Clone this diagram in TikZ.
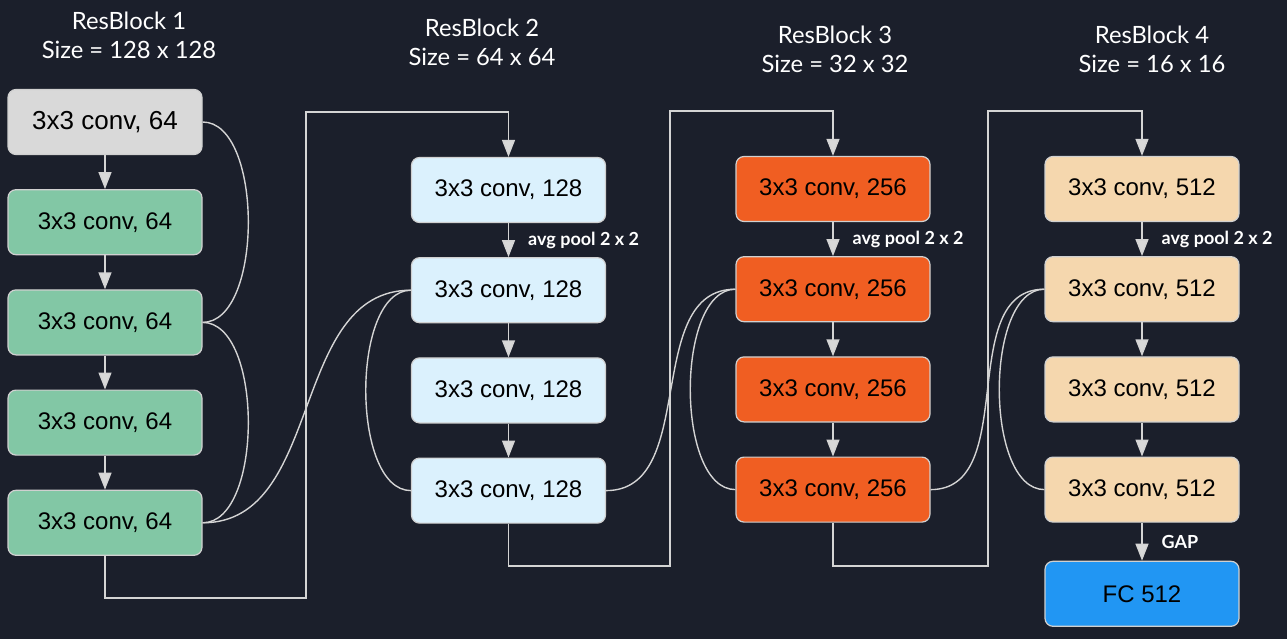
\documentclass[tikz,border=0pt]{standalone}
\usepackage{fontspec}
\setmainfont{Liberation Sans}
\newfontfamily\latofont{Lato}
\usetikzlibrary{positioning,arrows.meta}

\definecolor{bgnavy}{HTML}{1B1F2B}
\definecolor{linkgrey}{HTML}{D4D4D4}
\definecolor{boxedge}{HTML}{D0D0D0}
\definecolor{stemgrey}{HTML}{D9D9D9}
\definecolor{greenconv}{HTML}{82C7A5}
\definecolor{blueconv}{HTML}{DBF1FD}
\definecolor{orangeconv}{HTML}{F05E22}
\definecolor{peachconv}{HTML}{F5D7AE}
\definecolor{fcblue}{HTML}{2196F3}

\tikzset{
  convbox/.style={draw=boxedge, line width=1.2pt, rounded corners=8pt,
    minimum width=194pt, minimum height=65pt, inner sep=0pt,
    font=\fontsize{24}{28}\selectfont, text=black},
  blocktitle/.style={align=center, text=white, inner sep=0pt,
    font=\latofont\fontsize{23.8}{29}\selectfont},
  opnote/.style={midway, anchor=west, xshift=19pt, inner sep=0pt, text=white,
    font=\latofont\bfseries\fontsize{18}{20}\selectfont},
  link/.style={draw=linkgrey, line width=1.4pt},
  flow/.style={link, -{Triangle[length=17pt,width=13pt,fill=stemgrey]}},
}

\begin{document}
\begin{tikzpicture}[x=1pt,y=-1pt,node distance=34pt]
    \fill[bgnavy] (0,0) rectangle (1287,639);
    \useasboundingbox (0,0) rectangle (1287,639);

    % Text Node
    \node[blocktitle] (t1) at (129,35.5) {ResBlock 1\\Size = 128 x 128};
    % Text Node
    \node[blocktitle] (t2) at (482,42.5) {ResBlock 2\\Size = 64 x 64};
    % Text Node
    \node[blocktitle] (t3) at (835,49.5) {ResBlock 3\\Size = 32 x 32};
    % Text Node
    \node[blocktitle] (t4) at (1152,49.5) {ResBlock 4\\Size = 16 x 16};

    %ResBlock 1
    \node[convbox, fill=stemgrey, font=\fontsize{26}{30}\selectfont] (b11) at (105,122) {3x3 conv, 64};
    \node[convbox, fill=greenconv, below=of b11] (b12) {3x3 conv, 64};
    \node[convbox, fill=greenconv, below=of b12] (b13) {3x3 conv, 64};
    \node[convbox, fill=greenconv, below=of b13] (b14) {3x3 conv, 64};
    \node[convbox, fill=greenconv, below=of b14] (b15) {3x3 conv, 64};

    %ResBlock 2
    \node[convbox, fill=blueconv] (b21) at (508.5,190) {3x3 conv, 128};
    \node[convbox, fill=blueconv, below=of b21] (b22) {3x3 conv, 128};
    \node[convbox, fill=blueconv, below=of b22] (b23) {3x3 conv, 128};
    \node[convbox, fill=blueconv, below=of b23] (b24) {3x3 conv, 128};

    %ResBlock 3
    \node[convbox, fill=orangeconv] (b31) at (833,189) {3x3 conv, 256};
    \node[convbox, fill=orangeconv, below=of b31] (b32) {3x3 conv, 256};
    \node[convbox, fill=orangeconv, below=of b32] (b33) {3x3 conv, 256};
    \node[convbox, fill=orangeconv, below=of b33] (b34) {3x3 conv, 256};

    %ResBlock 4
    \node[convbox, fill=peachconv] (b41) at (1142,189) {3x3 conv, 512};
    \node[convbox, fill=peachconv, below=of b41] (b42) {3x3 conv, 512};
    \node[convbox, fill=peachconv, below=of b42] (b43) {3x3 conv, 512};
    \node[convbox, fill=peachconv, below=of b43] (b44) {3x3 conv, 512};
    \node[convbox, fill=fcblue, below=38pt of b44] (fc) {FC 512};

    % arrows inside the blocks
    \draw[flow] (b11) -- (b12);
    \draw[flow] (b12) -- (b13);
    \draw[flow] (b13) -- (b14);
    \draw[flow] (b14) -- (b15);
    \draw[flow] (b21) -- node[opnote] {avg pool 2 x 2} (b22);
    \draw[flow] (b22) -- (b23);
    \draw[flow] (b23) -- (b24);
    \draw[flow] (b31) -- node[opnote] {avg pool 2 x 2} (b32);
    \draw[flow] (b32) -- (b33);
    \draw[flow] (b33) -- (b34);
    \draw[flow] (b41) -- node[opnote] {avg pool 2 x 2} (b42);
    \draw[flow] (b42) -- (b43);
    \draw[flow] (b43) -- (b44);
    \draw[flow] (b44) -- node[opnote] {GAP} (fc);

    % paths between the blocks
    \coordinate (j1a) at (306,598);
    \coordinate (j1b) at (306,112);
    \coordinate (j2a) at (670,566);
    \coordinate (j2b) at (670,111);
    \coordinate (j3a) at (988,566);
    \coordinate (j3b) at (988,111);
    \draw[flow] (b15.south) |- (j1a) -- (j1b) -| (b21.north);
    \draw[flow] (b24.south) |- (j2a) -- (j2b) -| (b31.north);
    \draw[flow] (b34.south) |- (j3a) -- (j3b) -| (b41.north);

    % skip connections
    \draw[link] (b11.east) to[out=0,in=0,looseness=0.78] (b13.east);
    \draw[link] (b13.east) to[out=0,in=0,looseness=0.78] (b15.east);
    \draw[link] (b15.east) to[out=0,in=180] (b22.west);
    \draw[link] (b22.west) to[out=180,in=180,looseness=0.77] (b24.west);
    \draw[link] (b24.east) to[out=0,in=180] (b32.west);
    \draw[link] (b32.west) to[out=180,in=180,looseness=0.77] (b34.west);
    \draw[link] (b34.east) to[out=0,in=180] (b42.west);
    \draw[link] (b42.west) to[out=180,in=180,looseness=0.77] (b44.west);
\end{tikzpicture}
\end{document}
